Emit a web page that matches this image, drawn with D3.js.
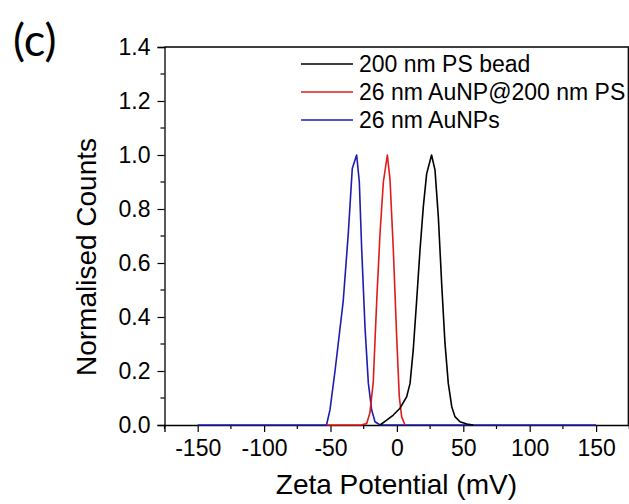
<!DOCTYPE html>
<html>
<head>
<meta charset="utf-8">
<script src="https://cdn.jsdelivr.net/npm/d3@7"></script>
<style>
  body { margin: 0; background: #fff; }
  svg { display: block; }
  text { font-family: "Liberation Sans", Arial, sans-serif; fill: #000; }
</style>
</head>
<body>
<div id="chart"></div>
<script>
// data
var seriesNames = ["200 nm PS bead", "26 nm AuNP@200 nm PS", "26 nm AuNPs"];
var seriesColors = ["#000000", "#e01b1b", "#1c1cb0"];

var psX = [-12.7, -7.7, -2.7, 2.3, 7.4, 9.9, 12.3, 14.9, 17.4, 19.9, 22.4, 26.1, 28.7, 31.2, 33.7, 36.2, 38.7, 41.3, 43.7, 47.5, 52.6, 57.5];
var psY = [0, 0.018, 0.037, 0.062, 0.105, 0.154, 0.278, 0.463, 0.648, 0.809, 0.93, 1.0, 0.944, 0.771, 0.525, 0.303, 0.154, 0.068, 0.031, 0.012, 0.004, 0];

var auPsX = [-53, -27, -22.8, -20.3, -17.8, -15.2, -12.7, -10.2, -7.2, -5.2, -2.7, -0.2, 1.8, 3.6, 6.1];
var auPsY = [0, 0, 0.005, 0.045, 0.16, 0.46, 0.71, 0.9, 1.0, 0.91, 0.65, 0.33, 0.105, 0.03, 0];

var auX = [-150, -53, -50.4, -46.6, -40.4, -36.6, -33.6, -30.3, -28.3, -26.5, -24, -21.5, -19, -16.5, -12.7, 150];
var auY = [0, 0, 0.056, 0.2, 0.46, 0.71, 0.95, 1.0, 0.9, 0.65, 0.36, 0.155, 0.056, 0.012, 0, 0];

var xTicks = [-150, -100, -50, 0, 50, 100, 150];
var yTicks = [0.0, 0.2, 0.4, 0.6, 0.8, 1.0, 1.2, 1.4];

var W = 629, H = 504;
var plotL = 164.5, plotR = 629.3, plotT = 47, plotB = 425;

var svg = d3.select("#chart").append("svg")
    .attr("width", W)
    .attr("height", H);

var x = d3.scaleLinear().domain([-175, 175]).range([plotL, plotR]);
var y = d3.scaleLinear().domain([0, 1.4]).range([plotB, plotT]);

// frame (top and right)
svg.append("path")
    .attr("d", "M" + plotL + "," + plotT + "H" + (W - 0.7) + "V" + plotB)
    .attr("fill", "none")
    .attr("stroke", "#000")
    .attr("stroke-width", 1.3);

// minor ticks
var xMinor = d3.range(-175, 176, 25).filter(function (v) { return xTicks.indexOf(v) < 0; });
var yMinor = d3.range(1, 14, 2).map(function (v) { return v / 10; });

var xAxis = svg.append("g")
    .attr("transform", "translate(0," + plotB + ")")
    .call(d3.axisBottom(x).tickValues(xTicks).tickSize(7).tickPadding(8)
        .tickFormat(d3.format("d")));
xAxis.selectAll("text").style("font-size", "23px")
    .text(function (d) { return d < 0 ? "-" + Math.abs(d) : d; });

xAxis.selectAll(".minor").data(xMinor).enter().append("line")
    .attr("x1", function (d) { return x(d); })
    .attr("x2", function (d) { return x(d); })
    .attr("y1", 0).attr("y2", 4)
    .attr("stroke", "#000").attr("stroke-width", 1.2);

var yAxis = svg.append("g")
    .attr("transform", "translate(" + plotL + ",0)")
    .call(d3.axisLeft(y).tickValues(yTicks).tickSize(7).tickPadding(7)
        .tickFormat(d3.format(".1f")));
yAxis.selectAll("text").style("font-size", "23px");

yAxis.selectAll(".minor").data(yMinor).enter().append("line")
    .attr("y1", function (d) { return y(d); })
    .attr("y2", function (d) { return y(d); })
    .attr("x1", 0).attr("x2", -4)
    .attr("stroke", "#000").attr("stroke-width", 1.2);

svg.selectAll(".domain").attr("stroke-width", 1.3);
svg.selectAll(".tick line").attr("stroke-width", 1.2);

// curves
var line = d3.line()
    .x(function (d) { return x(d[0]); })
    .y(function (d) { return y(d[1]); });

var series = [
    { xs: auX, ys: auY, color: seriesColors[2] },
    { xs: auPsX, ys: auPsY, color: seriesColors[1] },
    { xs: psX, ys: psY, color: seriesColors[0] }
];

svg.append("g").selectAll("path")
    .data(series)
    .enter().append("path")
    .attr("d", function (s) { return line(d3.zip(s.xs, s.ys)); })
    .attr("fill", "none")
    .attr("stroke", function (s) { return s.color; })
    .attr("stroke-width", 1.6)
    .attr("stroke-linejoin", "round");

// legend
var legend = svg.append("g");
seriesNames.forEach(function (name, i) {
    var ly = 64 + i * 28;
    legend.append("line")
        .attr("x1", 301).attr("x2", 353)
        .attr("y1", ly).attr("y2", ly)
        .attr("stroke", seriesColors[i])
        .attr("stroke-width", 1.6);
    legend.append("text")
        .attr("x", 359).attr("y", ly)
        .attr("dy", "0.36em")
        .style("font-size", "23px")
        .text(name);
});

// axis titles
svg.append("text")
    .attr("x", (plotL + plotR) / 2 - 0.5)
    .attr("y", 494)
    .attr("text-anchor", "middle")
    .style("font-size", "28px")
    .text("Zeta Potential (mV)");

svg.append("text")
    .attr("transform", "translate(96," + ((plotT + plotB) / 2 + 21) + ") rotate(-90)")
    .attr("text-anchor", "middle")
    .style("font-size", "28px")
    .text("Normalised Counts");

// panel label
svg.append("text")
    .attr("x", 13).attr("y", 56)
    .style("font-family", "Lato, 'Open Sans', sans-serif")
    .style("font-size", "45px")
    .text("(c)");
</script>
</body>
</html>
